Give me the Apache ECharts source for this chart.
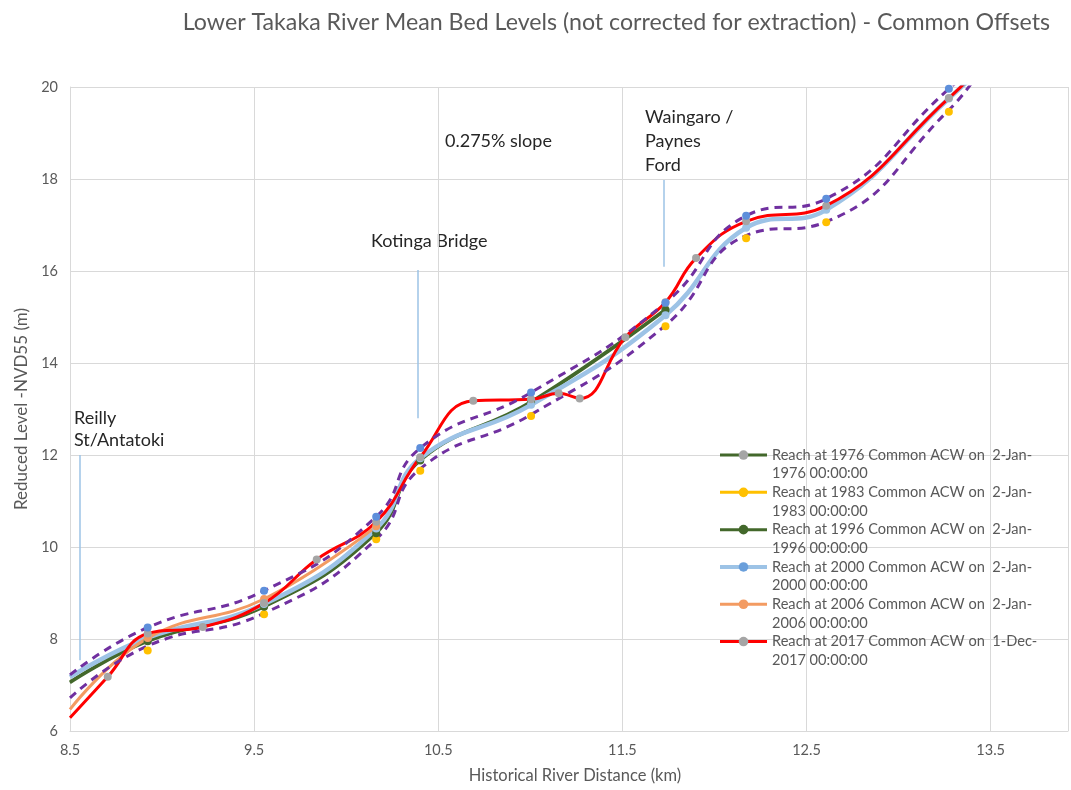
<!DOCTYPE html>
<html>
<head>
<meta charset="utf-8">
<script src="https://cdn.jsdelivr.net/npm/echarts@6/dist/echarts.min.js"></script>
<style>
  html, body { margin: 0; padding: 0; background: #fff; }
  #chart { width: 1071px; height: 790px; }
</style>
</head>
<body>
<div id="chart"></div>
<script>
// survey values: [distance km, level m]
var reach1976 = [[8.5, 7.07], [8.922, 7.97], [9.554, 8.72], [10.163, 10.33], [10.402, 11.9], [11.004, 13.16], [11.734, 15.17]]
var reach1983 = [[8.922, 7.75], [9.554, 8.54], [10.163, 10.17], [10.402, 11.66], [11.004, 12.85], [11.734, 14.8], [12.172, 16.71], [12.607, 17.06], [13.273, 19.46]]
var reach1996 = [[8.5, 7.05], [8.922, 7.95], [9.554, 8.7], [10.163, 10.3], [10.402, 11.88], [11.004, 13.14], [11.734, 15.15]]
var reach2000 = [[8.5, 7.17], [8.922, 8.03], [9.554, 8.76], [10.163, 10.4], [10.402, 11.93], [11.004, 13.09], [11.734, 15.04], [12.172, 16.94], [12.607, 17.33], [13.273, 19.75], [13.45, 20.4]]
var reach2006 = [[8.5, 6.47], [8.922, 8.02], [9.554, 8.87], [10.163, 10.45]]
var reach2017 = [[8.5, 6.29], [8.705, 7.18], [8.922, 8.12], [9.221, 8.26], [9.554, 8.78], [9.84, 9.73], [10.163, 10.55], [10.402, 11.95], [10.69, 13.18], [11.004, 13.21], [11.154, 13.34], [11.268, 13.23], [11.516, 14.56], [11.734, 15.32], [11.9, 16.28], [12.172, 17.08], [12.607, 17.42], [13.273, 19.76], [13.45, 20.45]]
// offset envelopes (dashed)
var upperOffset = [[8.5, 7.22], [8.922, 8.25], [9.554, 9.05], [10.163, 10.66], [10.402, 12.15], [11.004, 13.36], [11.734, 15.31], [12.172, 17.2], [12.607, 17.57], [13.273, 19.96], [13.4, 20.4]]
var lowerOffset = [[8.5, 6.72], [8.922, 7.85], [9.554, 8.56], [10.163, 10.17], [10.402, 11.7], [11.004, 12.88], [11.734, 14.82], [12.172, 16.77], [12.607, 17.07], [13.273, 19.5], [13.45, 20.4]]
// site marker lines [x, yFrom, yTo]
var sites = [[8.555, 12.0, 7.54], [10.386, 16.02, 12.8], [11.723, 17.98, 16.09]]

var names = [
  'Reach at 1976 Common ACW on  2-Jan-1976 00:00:00',
  'Reach at 1983 Common ACW on  2-Jan-1983 00:00:00',
  'Reach at 1996 Common ACW on  2-Jan-1996 00:00:00',
  'Reach at 2000 Common ACW on  2-Jan-2000 00:00:00',
  'Reach at 2006 Common ACW on  2-Jan-2006 00:00:00',
  'Reach at 2017 Common ACW on  1-Dec-2017 00:00:00'
]

var font = 'Lato, "Open Sans", sans-serif'
var grey = '#A5A5A5'

// points on the plot edge get no dot
function edgeless (data) {
  return data.map(function (p) {
    return (p[0] <= 8.5 || p[1] > 20) ? { value: p, symbol: 'none' } : p
  })
}

function reach (name, data, lineColor, dotColor, width) {
  return {
    name: name,
    type: 'line',
    data: edgeless(data),
    smooth: 0.45,
    symbol: 'circle',
    symbolSize: 8,
    lineStyle: { color: lineColor, width: width },
    itemStyle: { color: dotColor }
  }
}

function envelope (name, data, dots) {
  return {
    name: name,
    type: 'line',
    data: edgeless(data),
    smooth: 0.5,
    symbol: dots ? 'circle' : 'none',
    symbolSize: 8,
    itemStyle: { color: '#5E8FDB' },
    lineStyle: { color: '#7030A0', width: 3, type: [8, 6] },
    z: 3
  }
}

var series = [
  reach(names[0], reach1976, '#43682B', grey, 3),
  reach(names[1], reach1983, '#FFC000', '#FFC000', 3),
  reach(names[2], reach1996, '#43682B', '#43682B', 3),
  reach(names[3], reach2000, '#9DC3E6', '#6A9FDB', 4.5),
  reach(names[4], reach2006, '#F39B62', '#F39B62', 3),
  reach(names[5], reach2017, '#FF0000', grey, 3),
  envelope('lower', lowerOffset, false),
  envelope('upper', upperOffset, true)
]
// 1983 shows only its points
series[1].lineStyle.opacity = 0
// 2000 dots sit hidden in its own line colour on the plot
series[3].data = series[3].data.map(function (d) {
  return d.symbol ? d : { value: d, itemStyle: { color: '#9DC3E6' } }
})

series.push({
  name: 'sites',
  type: 'line',
  data: [],
  markLine: {
    silent: true,
    symbol: 'none',
    label: { show: false },
    lineStyle: { color: '#9DC3E6', width: 1.5, type: 'solid' },
    data: sites.map(function (s) {
      return [{ coord: [s[0], s[1]] }, { coord: [s[0], s[2]] }]
    })
  }
})

var textStyle = { fill: '#262626', font: '18px ' + font }
var graphics = [
  { type: 'text', left: 74, top: 407, style: Object.assign({ text: 'Reilly\nSt/Antatoki', lineHeight: 22 }, textStyle) },
  { type: 'text', left: 371, top: 232, style: Object.assign({ text: 'Kotinga Bridge' }, textStyle) },
  { type: 'text', left: 445, top: 132, style: Object.assign({ text: '0.275% slope' }, textStyle) },
  { type: 'text', left: 645, top: 105, style: Object.assign({ text: 'Waingaro /\nPaynes\nFord', lineHeight: 24 }, textStyle) }
]

var option = {
  animation: false,
  title: {
    text: 'Lower Takaka River Mean Bed Levels (not corrected for extraction) - Common Offsets',
    right: 16,
    top: 6,
    textStyle: { color: '#595959', fontSize: 23.2, fontWeight: 'normal', fontFamily: font }
  },
  grid: { left: 70, right: 3, top: 87, bottom: 59 },
  legend: {
    data: names.map(function (n, i) {
      return { name: n, lineStyle: { opacity: 1, width: i === 3 ? 4 : 3 } }
    }),
    orient: 'vertical',
    left: 718,
    top: 427,
    padding: 0,
    itemWidth: 47,
    itemHeight: 12,
    itemGap: -18.8,
    // empty first line keeps the icon level with the first text line
    formatter: function (name) {
      return '\n' + name.replace(/(Jan-|Dec-)/, '$1\n')
    },
    textStyle: { color: '#595959', fontSize: 14.6, fontFamily: font, lineHeight: 18.7 }
  },
  xAxis: {
    type: 'value',
    min: 8.5,
    max: 13.92,
    interval: 1,
    name: 'Historical River Distance (km)',
    nameLocation: 'middle',
    nameGap: 36,
    nameTextStyle: { color: '#595959', fontSize: 16.5, fontFamily: font, padding: [0, 0, 0, 12] },
    axisLine: { lineStyle: { color: '#D9D9D9' } },
    axisTick: { show: false },
    axisLabel: { color: '#595959', fontSize: 14.5, fontFamily: font, showMaxLabel: false, margin: 12 },
    splitLine: { lineStyle: { color: '#D9D9D9' } }
  },
  yAxis: {
    type: 'value',
    min: 6,
    max: 20,
    interval: 2,
    name: 'Reduced Level -NVD55 (m)',
    nameLocation: 'middle',
    nameGap: 40,
    nameTextStyle: { color: '#595959', fontSize: 17, fontFamily: font },
    axisLine: { show: true, lineStyle: { color: '#D9D9D9' } },
    axisTick: { show: false },
    axisLabel: { color: '#595959', fontSize: 14.5, fontFamily: font, margin: 12 },
    splitLine: { lineStyle: { color: '#D9D9D9' } }
  },
  graphic: graphics,
  series: series
}

var myChart = echarts.init(document.getElementById('chart'))
myChart.setOption(option)
</script>
</body>
</html>
